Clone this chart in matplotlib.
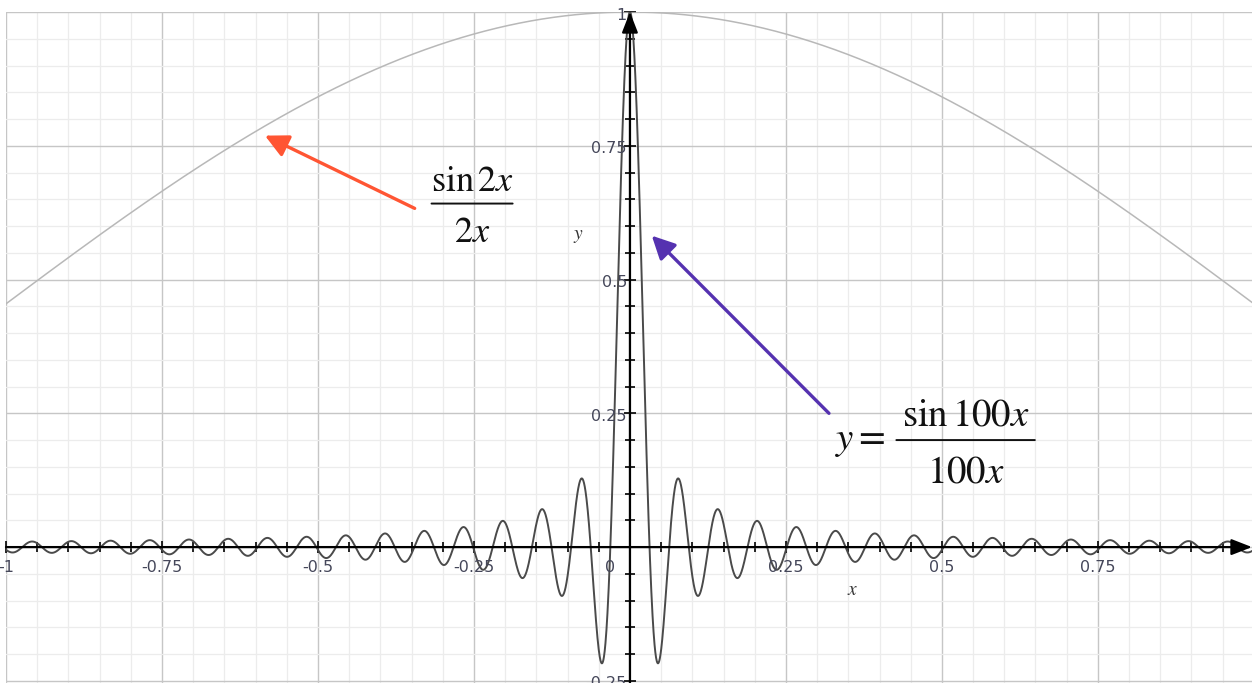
import numpy as np
import matplotlib.pyplot as plt
from matplotlib.ticker import MultipleLocator

plt.rcParams["mathtext.fontset"] = "stix"

# Curves y = sin(kx) / (kx) for a narrow and a wide sinc
K_NARROW = 100
K_WIDE = 2
X_RANGE = (-1.0, 0.997)
Y_RANGE = (-0.254, 1.0)
N_POINTS = 5000

X_TICKS = [-1, -0.75, -0.5, -0.25, 0.25, 0.5, 0.75]
X_TICKLABELS = ["-1", "-0.75", "-0.5", "-0.25", "0.25", "0.5", "0.75"]
Y_TICKS = [-0.25, 0.25, 0.5, 0.75, 1]
Y_TICKLABELS = ["-0.25", "0.25", "0.5", "0.75", "1"]

# Arrow (tail, head) in data coordinates
ARROW_WIDE = ((-0.345, 0.633), (-0.585, 0.769))
ARROW_NARROW = ((0.319, 0.250), (0.035, 0.582))

# Hand-set fractions: (numerator, denominator, x centre, numerator
# baseline, bar level, denominator baseline, half bar width, size)
FRAC_WIDE = (r"$\sin 2x$", r"$2x$", -0.253, 0.666, 0.642, 0.571, 0.065, 26)
FRAC_NARROW = (r"$\sin 100x$", r"$100x$", 0.538, 0.228, 0.200, 0.121, 0.111, 28)

COLOR_NARROW = "#4a4a4a"
COLOR_WIDE = "#b8b8b8"
COLOR_RED = "#ff5533"
COLOR_PURPLE = "#5532b0"
COLOR_TICKTEXT = "#45475a"
COLOR_MATH = "#111111"


def sinc(x, k):
    return np.sinc(k * x / np.pi)


def fraction_draw(ax, frac):
    num, den, xc, y_num, y_bar, y_den, half, size = frac
    ax.text(xc, y_num, num, fontsize=size, ha="center", va="baseline",
            color=COLOR_MATH)
    ax.text(xc, y_den, den, fontsize=size, ha="center", va="baseline",
            color=COLOR_MATH)
    ax.annotate("", xy=(xc + half, y_bar), xytext=(xc - half, y_bar),
                arrowprops=dict(arrowstyle="-", color=COLOR_MATH, lw=1.4,
                                shrinkA=0, shrinkB=0))


def main():
    x = np.linspace(X_RANGE[0], X_RANGE[1], N_POINTS)
    fig = plt.figure(figsize=(12.52, 6.83), dpi=100)
    ax = fig.add_axes([6 / 1252, 0, 1246 / 1252, 671 / 683])
    ax.set_xlim(*X_RANGE)
    ax.set_ylim(*Y_RANGE)

    # grid: minor every 0.05, major every 0.25
    for axis in (ax.xaxis, ax.yaxis):
        axis.set_major_locator(MultipleLocator(0.25))
        axis.set_minor_locator(MultipleLocator(0.05))
    ax.grid(which="minor", color="#ececec", lw=0.9, zorder=0)
    ax.grid(which="major", color="#c6c6c6", lw=1.0, zorder=0)
    ax.set_axisbelow(True)

    # ticks sit on the axes through the origin
    for side in ("left", "bottom"):
        ax.spines[side].set_position(("data", 0))
        ax.spines[side].set_visible(False)
    for side in ("right", "top"):
        ax.spines[side].set_visible(False)
    ax.tick_params(which="both", direction="inout", color="black",
                   width=1.2, labelleft=False, labelbottom=False,
                   top=False, right=False)
    ax.tick_params(which="major", length=8)
    ax.tick_params(which="minor", length=7)

    ax.plot(x, sinc(x, K_WIDE), color=COLOR_WIDE, lw=1.1, zorder=2)
    ax.plot(x, sinc(x, K_NARROW), color=COLOR_NARROW, lw=1.4, zorder=3)

    # axis lines with arrow heads
    axis_arrow = dict(arrowstyle="-|>,head_length=0.9,head_width=0.35",
                      color="black", lw=1.6, shrinkA=0, shrinkB=0,
                      mutation_scale=14)
    ax.annotate("", xy=(X_RANGE[1], 0), xytext=(X_RANGE[0], 0),
                arrowprops=axis_arrow, zorder=4)
    ax.annotate("", xy=(0, Y_RANGE[1]), xytext=(0, Y_RANGE[0]),
                arrowprops=axis_arrow, zorder=4)

    # tick labels
    for v, s in zip(X_TICKS, X_TICKLABELS):
        ax.annotate(s, (v, 0), xytext=(0, -20), textcoords="offset pixels",
                    ha="center", va="center", fontsize=11.5,
                    color=COLOR_TICKTEXT, annotation_clip=False)
    for v, s in zip(Y_TICKS, Y_TICKLABELS):
        ax.annotate(s, (0, v), xytext=(-3, -3), textcoords="offset pixels",
                    ha="right", va="center", fontsize=11.5,
                    color=COLOR_TICKTEXT, annotation_clip=False)
    ax.annotate("0", (0, 0), xytext=(-20, -20), textcoords="offset pixels",
                ha="center", va="center", fontsize=11.5, color=COLOR_TICKTEXT)

    ax.text(0.357, -0.080, "$x$", fontsize=14, ha="center", va="center",
            color="#333333")
    ax.text(-0.083, 0.582, "$y$", fontsize=14, ha="center", va="center",
            color="#333333")

    # labelled arrows pointing at each curve
    for (tail, head), c in ((ARROW_WIDE, COLOR_RED),
                            (ARROW_NARROW, COLOR_PURPLE)):
        ax.annotate("", xy=head, xytext=tail,
                    arrowprops=dict(arrowstyle="-|>,head_length=0.7,head_width=0.35",
                                    color=c, lw=2.4, shrinkA=0, shrinkB=0,
                                    mutation_scale=20), zorder=5)
    fraction_draw(ax, FRAC_WIDE)
    fraction_draw(ax, FRAC_NARROW)
    ax.text(0.410, 0.183, r"$y =$", fontsize=28, ha="right", va="baseline",
            color=COLOR_MATH)

    fig.savefig("out.png", dpi=100)


if __name__ == "__main__":
    main()
